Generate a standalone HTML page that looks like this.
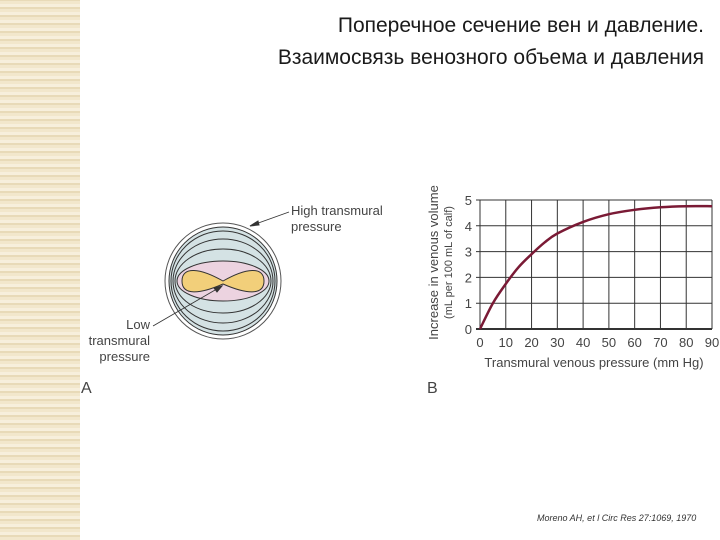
<!DOCTYPE html>
<html><head><meta charset="utf-8"><style>
body{margin:0;width:720px;height:540px;background:#fff;overflow:hidden;position:relative;font-family:"Liberation Sans",sans-serif}
.stripe{position:absolute;left:0;top:0;width:80px;height:540px;background:repeating-linear-gradient(0deg,#f2e7cc 0 3px,#e8dab8 3px 5px,#f7efdc 5px 8px)}
.title{position:absolute;right:16px;top:10px;text-align:right;font-family:"Liberation Sans","DejaVu Sans",sans-serif;font-size:21px;line-height:32px;color:#1a1a1a}
</style></head><body>
<div class="stripe"></div>
<div class="title">Поперечное сечение вен и давление.<br>Взаимосвязь венозного объема и давления</div>
<svg width="720" height="540" style="position:absolute;left:0;top:0">
<g stroke="#333" stroke-width="1">
<circle cx="223" cy="281" r="58" fill="#fff" stroke="#555"/>
<circle cx="223" cy="281" r="54" fill="#d4e2e4"/>
<ellipse cx="223" cy="281" rx="52" ry="50" fill="none"/>
<ellipse cx="223" cy="281" rx="50" ry="42" fill="none"/>
<ellipse cx="223" cy="281" rx="48" ry="32" fill="none"/>
<ellipse cx="223" cy="281" rx="46" ry="20" fill="#ecd3e0"/>
<path d="M182 281 C182 266 200 268 223 281 C246 268 264 266 264 281 C264 296 246 294 223 284 C200 294 182 296 182 281Z" fill="#f2cf7a"/>
<line x1="289" y1="212" x2="250" y2="226" stroke-width="0.8"/>
<path d="M250 226 l8 -5 l1 4z" fill="#333"/>
<line x1="153" y1="326" x2="222" y2="286" stroke-width="0.8"/>
<path d="M222 286 l-8 2 l3 4z" fill="#333"/>
</g>
<g font-size="13" fill="#444" stroke="none">
<text x="291" y="215">High transmural</text>
<text x="291" y="231">pressure</text>
<text x="150" y="329" text-anchor="end">Low</text>
<text x="150" y="345" text-anchor="end">transmural</text>
<text x="150" y="361" text-anchor="end">pressure</text>
<text x="81" y="393" font-size="16">A</text>
<text x="427" y="393" font-size="16">B</text>
</g>
<g id="chart"></g>
<text x="537" y="521" font-size="9" font-style="italic" fill="#333">Moreno AH, et l Circ Res 27:1069, 1970</text>
</svg>
<script>
const xTicks=[0,10,20,30,40,50,60,70,80,90];
const yTicks=[0,1,2,3,4,5];
const pressure=[0,5,10,15,20,25,30,40,50,60,70,80,90];
const volume=[0,1.0,1.75,2.4,2.9,3.35,3.7,4.15,4.45,4.62,4.72,4.76,4.76];
const X0=480,X1=712,Y0=329,Y1=200;
const sx=v=>X0+(v-0)/(90)*(X1-X0);
const sy=v=>Y0-(v)/5*(Y0-Y1);
const g=document.getElementById('chart');
const NS='http://www.w3.org/2000/svg';
function mk(t,a){const e=document.createElementNS(NS,t);for(const k in a)e.setAttribute(k,a[k]);g.appendChild(e);return e;}
xTicks.forEach(v=>{
const l=mk('line',{x1:sx(v),x2:sx(v),y1:Y1,y2:Y0,stroke:'#333','stroke-width':1});


const t=mk('text',{x:sx(v),y:Y0+18,'text-anchor':'middle','font-size':13,fill:'#444'});t.textContent=v;


});
yTicks.forEach(v=>{
const l=mk('line',{x1:X0-4,x2:X1,y1:sy(v),y2:sy(v),stroke:'#333','stroke-width':v===0?2:1});


const t=mk('text',{x:X0-8,y:sy(v)+5,'text-anchor':'end','font-size':13,fill:'#444'});t.textContent=v;


});
const P=pressure.map((p,i)=>[sx(p),sy(volume[i])]);
let d='M'+P[0][0]+' '+P[0][1];
for(let i=0;i<P.length-1;i++){
const p0=P[Math.max(0,i-1)],p1=P[i],p2=P[i+1],p3=P[Math.min(P.length-1,i+2)];
const c1=[p1[0]+(p2[0]-p0[0])/6,p1[1]+(p2[1]-p0[1])/6];
const c2=[p2[0]-(p3[0]-p1[0])/6,p2[1]-(p3[1]-p1[1])/6];
d+=' C'+c1[0]+' '+c1[1]+' '+c2[0]+' '+c2[1]+' '+p2[0]+' '+p2[1];
}
const c=mk('path',{d:d,fill:'none',stroke:'#7a1a35','stroke-width':2.5,'stroke-linejoin':'round'});


const xt=mk('text',{x:(X0+X1)/2-2,y:Y0+38,'text-anchor':'middle','font-size':13,fill:'#444'});xt.textContent='Transmural venous pressure (mm Hg)';


const yt=mk('text',{transform:'translate(438,'+((Y0+Y1)/2-2)+') rotate(-90)','text-anchor':'middle','font-size':13,fill:'#444'});yt.textContent='Increase in venous volume';


const yt2=mk('text',{transform:'translate(452,'+((Y0+Y1)/2-2)+') rotate(-90)','text-anchor':'middle','font-size':11,fill:'#444'});yt2.textContent='(mL per 100 mL of calf)';


</script>
</body></html>
